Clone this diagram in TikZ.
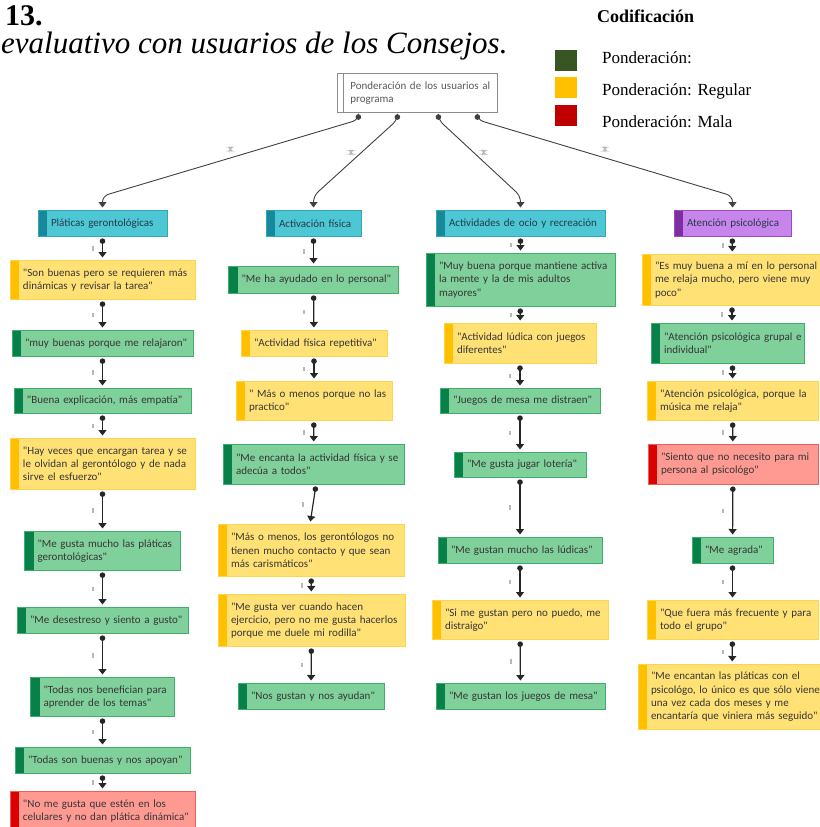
\documentclass[tikz,border=0pt]{standalone}
\usepackage{fontspec}
\setmainfont{Liberation Serif}
\newfontfamily\carlito{Carlito}
\usetikzlibrary{positioning,arrows.meta}

\definecolor{verdefondo}{HTML}{80D09B}
\definecolor{verdeborde}{HTML}{3FAE6A}
\definecolor{verdetira}{HTML}{07804A}
\definecolor{amarillofondo}{HTML}{FFE175}
\definecolor{amarilloborde}{HTML}{FFD44D}
\definecolor{amarillotira}{HTML}{FFC000}
\definecolor{rojofondo}{HTML}{FF9A92}
\definecolor{rojoborde}{HTML}{E8605A}
\definecolor{rojotira}{HTML}{DD0000}
\definecolor{turquesafondo}{HTML}{4DC7D4}
\definecolor{turquesaborde}{HTML}{33A7B7}
\definecolor{turquesatira}{HTML}{16899A}
\definecolor{moradofondo}{HTML}{C784EA}
\definecolor{moradoborde}{HTML}{9A4BC2}
\definecolor{moradotira}{HTML}{7F2DA3}
\definecolor{texto}{HTML}{363636}
\definecolor{textocat}{HTML}{27394D}
\definecolor{leyverde}{HTML}{375623}
\definecolor{leyamarillo}{HTML}{FFC000}
\definecolor{leyrojo}{HTML}{C00000}

\tikzset{
  caja/.style={rectangle, line width=0.9pt, inner xsep=13pt, inner ysep=0pt,
    anchor=north, align=left, text=texto,
    font=\carlito\fontsize{11}{13.3}\selectfont,
    execute at begin node={\rightskip=0pt plus 2em minus 40pt}},
  tam/.style 2 args={text width=#1pt-26pt, minimum height=#2pt},
  tira/.style={path picture={\fill[#1] (path picture bounding box.south west)
    rectangle ([xshift=9pt]path picture bounding box.north west);}},
  verde/.style={caja, fill=verdefondo, draw=verdeborde, tira=verdetira},
  amarillo/.style={caja, fill=amarillofondo, draw=amarilloborde, tira=amarillotira},
  rojo/.style={caja, fill=rojofondo, draw=rojoborde, tira=rojotira},
  turquesa/.style={caja, fill=turquesafondo, draw=turquesaborde, tira=turquesatira, text=textocat},
  morado/.style={caja, fill=moradofondo, draw=moradoborde, tira=moradotira, text=textocat},
  raiz/.style={caja, fill=white, draw=black!45, line width=0.8pt, text=black!65,
    path picture={\draw[black!45, line width=0.8pt]
      ([xshift=6pt]path picture bounding box.south west) --
      ([xshift=6pt]path picture bounding box.north west);}},
  flecha/.style={{Circle[length=5.5pt]}-{Triangle[width=8pt,length=5.5pt]},
    line width=1.2pt, draw=black!85, shorten <=1.5pt, shorten >=2.5pt},
  rama/.style={flecha, line width=0.9pt, draw=black!75, rounded corners=6pt},
  marca/.style={fill=black!28, inner sep=0pt, minimum width=2pt, minimum height=4.5pt},
  cuadro/.style={minimum width=22pt, minimum height=21pt, inner sep=0pt},
  leyenda/.style={anchor=base west, inner sep=0pt, font=\fontsize{17}{20}\selectfont},
}

\begin{document}
\begin{tikzpicture}[x=1pt, y=-1pt]
  \useasboundingbox (0,0) rectangle (819,827);

  % titulo y codificacion
  \node[anchor=base west, inner sep=0pt, font=\fontsize{30}{36}\selectfont\bfseries] (num) at (5,25) {13.};
  \node[anchor=base west, inner sep=0pt, font=\fontsize{31}{36}\selectfont\itshape] (titulo) at (1,53) {evaluativo con usuarios de los Consejos.};
  \node[leyenda, font=\fontsize{18}{21}\selectfont\bfseries] (codif) at (597,23) {Codificación};
  \node[cuadro, fill=leyverde] (lv) at (566,60.5) {};
  \node[cuadro, fill=leyamarillo] (la) at (566,87) {};
  \node[cuadro, fill=leyrojo] (lr) at (566,115.5) {};
  \node[leyenda] (tv) at (602,63) {Ponderación:};
  \node[leyenda] (ta) at (602,95) {Ponderación: Regular};
  \node[leyenda] (tr) at (602,127.5) {Ponderación: Mala};

  % raiz
  \node[raiz, tam={160}{39}, anchor=north west] (raiz) at (337,73) {Ponderación de los usuarios al\\programa};

  % Platicas gerontologicas
  \node[turquesa, tam={129}{26}] (p0) at (102.5,210) {Pláticas gerontológicas};
  \node[amarillo, tam={185}{39}] (p1) at (102.5,260) {"Son buenas pero se requieren más\\dinámicas y revisar la tarea"};
  \node[verde, tam={181}{26}] (p2) at (102.5,330) {"muy buenas porque me relajaron"};
  \node[verde, tam={177}{25}] (p3) at (102.5,388) {"Buena explicación, más empatía"};
  \node[amarillo, tam={185}{51}] (p4) at (102.5,438) {"Hay veces que encargan tarea  y se\\le olvidan al gerontólogo y de nada\\sirve el esfuerzo"};
  \node[verde, tam={156}{39}] (p5) at (102.5,531) {"Me gusta mucho las pláticas\\gerontológicas"};
  \node[verde, tam={171}{26}] (p6) at (102.5,607) {"Me desestreso y siento a gusto"};
  \node[verde, tam={144}{39}] (p7) at (102.5,677) {"Todas nos benefician para\\aprender de los temas"};
  \node[verde, tam={175}{26}] (p8) at (102.5,747) {"Todas son buenas y nos apoyan"};
  \node[rojo, tam={185}{39}] (p9) at (102.5,791) {"No me gusta que estén en los\\celulares y no dan plática dinámica"};

  % Activacion fisica
  \node[turquesa, tam={95}{26}] (a0) at (313.5,210) {Activación física};
  \node[verde, tam={170}{27}] (a1) at (313.5,266) {"Me ha ayudado en lo personal"};
  \node[amarillo, tam={146}{26}] (a2) at (314,330) {"Actividad física repetitiva"};
  \node[amarillo, tam={156}{39}] (a3) at (314,381) {" Más o menos porque no las\\practico"};
  \node[verde, tam={181}{40}] (a4) at (313.5,444) {"Me encanta la actividad física y se\\adecúa a todos"};
  \node[amarillo, tam={186}{52}] (a5) at (311,524) {"Más o menos, los gerontólogos no\\tienen mucho contacto y que sean\\más carismáticos"};
  \node[amarillo, tam={187}{52}] (a6) at (311.5,594) {"Me gusta ver cuando hacen\\ejercicio, pero no me gusta hacerlos\\porque me duele mi rodilla"};
  \node[verde, tam={146}{26}] (a7) at (311,683) {"Nos gustan y nos ayudan"};

  % Actividades de ocio
  \node[turquesa, tam={169}{26}] (o0) at (520.5,210) {Actividades de ocio y recreación};
  \node[verde, tam={189}{53}] (o1) at (520.5,253) {"Muy buena porque mantiene activa\\la mente y la de mis adultos\\mayores"};
  \node[amarillo, tam={152}{40}] (o2) at (520,323) {"Actividad lúdica con juegos\\diferentes"};
  \node[verde, tam={160}{25}] (o3) at (520,388) {"Juegos de mesa me distraen"};
  \node[verde, tam={132}{25}] (o4) at (520,452) {"Me gusta jugar lotería"};
  \node[verde, tam={164}{26}] (o5) at (520,537) {"Me gustan mucho las lúdicas"};
  \node[amarillo, tam={176}{39}] (o6) at (520,600) {"Si me gustan pero no puedo, me\\distraigo"};
  \node[verde, tam={169}{26}] (o7) at (520.5,683) {"Me gustan los juegos de mesa"};

  % Atencion psicologica
  \node[morado, tam={117}{26}] (s0) at (732.5,210) {Atención psicológica};
  \node[amarillo, tam={180}{51}] (s1) at (732,254) {"Es muy buena a mí en lo personal\\me relaja mucho, pero viene muy\\poco"};
  \node[verde, tam={153}{40}] (s2) at (727.5,323) {"Atención psicológica grupal e\\individual"};
  \node[amarillo, tam={171}{39}] (s3) at (732.5,381) {"Atención psicológica, porque la\\música me relaja"};
  \node[rojo, tam={170}{40}] (s4) at (733,444) {"Siento que no necesito para mi\\persona al psicológo"};
  \node[verde, tam={81}{26}] (s5) at (732.5,537) {"Me agrada"};
  \node[amarillo, tam={171}{39}] (s6) at (732.5,600) {"Que fuera más frecuente y para\\todo el grupo"};
  \node[amarillo, tam={188}{65}] (s7) at (732,664) {"Me encantan las pláticas con el\\psicológo, lo único es que sólo viene\\una vez cada dos meses y me\\encantaría que viniera más seguido"};

  % ramas de la raiz
  \draw[rama] ([xshift=-59pt]raiz.south) -- ++(0,7) -- node[marca, above=6pt]{} ([yshift=14pt]p0.north) -- (p0.north);
  \draw[rama] ([xshift=-20pt]raiz.south) -- ++(0,7) -- node[marca, above left=4pt]{} ([yshift=14pt]a0.north) -- (a0.north);
  \draw[rama] ([xshift=21pt]raiz.south) -- ++(0,7) -- node[marca, above right=4pt]{} ([yshift=14pt]o0.north) -- (o0.north);
  \draw[rama] ([xshift=60pt]raiz.south) -- ++(0,7) -- node[marca, above=6pt]{} ([yshift=14pt]s0.north) -- (s0.north);

  % flechas columna 1
  \draw[flecha] (p0) -- node[marca, left=8pt]{} (p1);
  \draw[flecha] (p1) -- node[marca, left=8pt]{} (p2);
  \draw[flecha] (p2) -- node[marca, left=8pt]{} (p3);
  \draw[flecha] (p3) -- node[marca, left=8pt]{} (p4);
  \draw[flecha] (p4) -- node[marca, left=8pt]{} (p5);
  \draw[flecha] (p5) -- node[marca, left=8pt]{} (p6);
  \draw[flecha] (p6) -- node[marca, left=8pt]{} (p7);
  \draw[flecha] (p7) -- node[marca, left=8pt]{} (p8);
  \draw[flecha] (p8) -- node[marca, left=8pt]{} (p9);

  % flechas columna 2
  \draw[flecha] (a0) -- node[marca, left=8pt]{} (a1);
  \draw[flecha] (a1) -- node[marca, left=8pt]{} (a2);
  \draw[flecha] (a2) -- node[marca, left=8pt]{} (a3);
  \draw[flecha] (a3) -- node[marca, left=8pt]{} (a4);
  \draw[flecha] ([xshift=2.5pt]a4.south) -- node[marca, left=8pt]{} ([xshift=-1pt]a5.north);
  \draw[flecha] (a5) -- node[marca, left=8pt]{} (a6);
  \draw[flecha] (a6) -- node[marca, left=8pt]{} (a7);

  % flechas columna 3
  \draw[flecha] (o0) -- node[marca, left=8pt]{} (o1);
  \draw[flecha] (o1) -- node[marca, left=8pt]{} (o2);
  \draw[flecha] (o2) -- node[marca, left=8pt]{} (o3);
  \draw[flecha] (o3) -- node[marca, left=8pt]{} (o4);
  \draw[flecha] (o4) -- node[marca, left=8pt]{} (o5);
  \draw[flecha] (o5) -- node[marca, left=8pt]{} (o6);
  \draw[flecha] (o6) -- node[marca, left=8pt]{} (o7);

  % flechas columna 4
  \draw[flecha] (s0) -- node[marca, left=8pt]{} (s1);
  \draw[flecha] (s1) -- node[marca, left=8pt]{} (s1 |- s2.north);
  \draw[flecha] (s2.south -| s3) -- node[marca, left=8pt]{} (s3);
  \draw[flecha] (s3) -- node[marca, left=8pt]{} (s4);
  \draw[flecha] (s4) -- node[marca, left=8pt]{} (s5);
  \draw[flecha] (s5) -- node[marca, left=8pt]{} (s6);
  \draw[flecha] (s6) -- node[marca, left=8pt]{} (s7);
\end{tikzpicture}
\end{document}
